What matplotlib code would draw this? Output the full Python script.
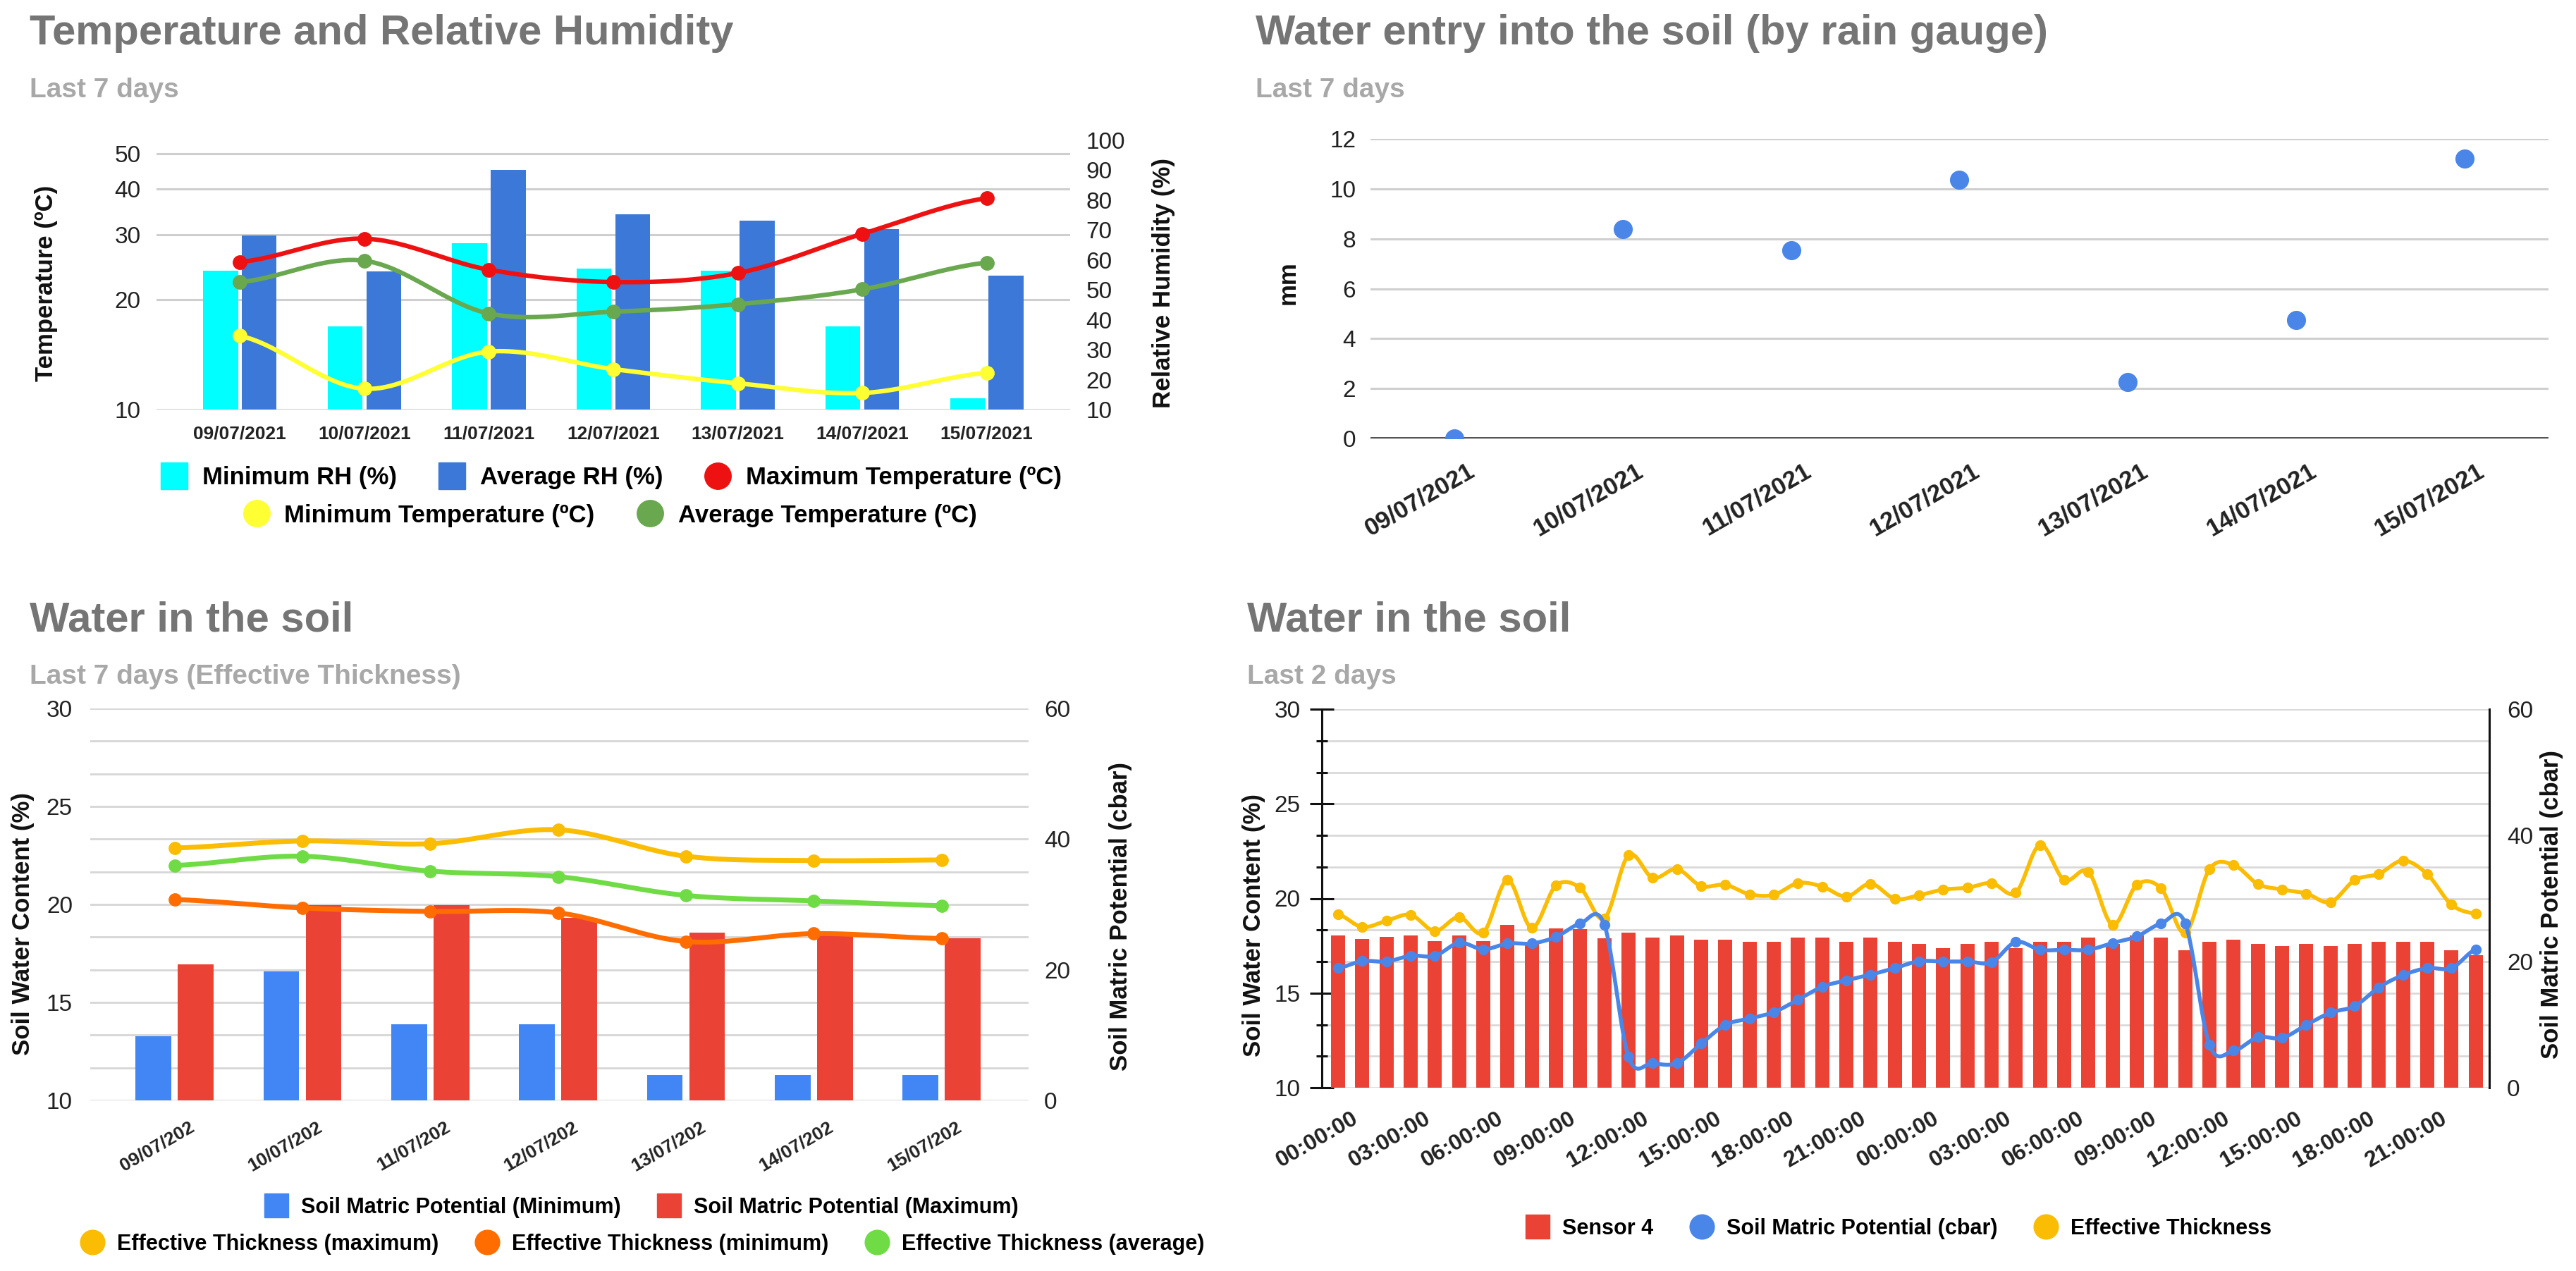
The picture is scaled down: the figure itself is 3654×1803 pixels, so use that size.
import numpy as np
import matplotlib
matplotlib.use('Agg')
import matplotlib.pyplot as plt
from matplotlib.lines import Line2D
from matplotlib.ticker import NullLocator, FixedLocator
from matplotlib.transforms import ScaledTranslation

plt.rcParams['font.family'] = ['Liberation Sans', 'DejaVu Sans']

# ---------------- data ----------------
dates = ['09/07/2021', '10/07/2021', '11/07/2021', '12/07/2021',
         '13/07/2021', '14/07/2021', '15/07/2021']
rh_min = [56.3, 37.7, 65.6, 57.1, 56.3, 37.7, 13.7]
rh_avg = [68.3, 56.2, 90.2, 75.3, 73.2, 70.3, 54.8]
t_max = [25.3, 29.3, 24.1, 22.3, 23.6, 30.2, 37.8]
t_avg = [22.3, 25.5, 18.3, 18.5, 19.4, 21.3, 25.2]
t_min = [15.9, 11.4, 14.4, 12.9, 11.8, 11.1, 12.6]

rain_mm = [0.0, 8.4, 7.55, 10.35, 2.25, 4.75, 11.2]

soil_dates = ['09/07/202', '10/07/202', '11/07/202', '12/07/202',
              '13/07/202', '14/07/202', '15/07/202']
smp_min = [9.8, 19.8, 11.7, 11.7, 3.9, 3.9, 3.9]
smp_max = [20.8, 29.9, 29.9, 28.0, 25.7, 25.4, 24.8]
et_max = [22.88, 23.24, 23.10, 23.81, 22.46, 22.24, 22.27]
et_min = [20.25, 19.82, 19.64, 19.57, 18.11, 18.51, 18.26]
et_avg = [21.99, 22.46, 21.70, 21.42, 20.46, 20.18, 19.94]

hour_labels = ['00:00:00', '03:00:00', '06:00:00', '09:00:00', '12:00:00',
               '15:00:00', '18:00:00', '21:00:00'] * 2
sensor4 = [18.05, 17.84, 17.96, 18.05, 17.73, 18.05, 17.73, 18.61, 17.72, 18.40,
           18.39, 17.91, 18.18, 17.93, 18.05, 17.83, 17.81, 17.72, 17.72, 17.93,
           17.93, 17.72, 17.93, 17.72, 17.58, 17.37, 17.58, 17.71, 17.37, 17.71,
           17.71, 17.93, 17.58, 18.05, 17.93, 17.27, 17.71, 17.83, 17.58, 17.47,
           17.58, 17.47, 17.58, 17.71, 17.71, 17.71, 17.25, 17.00]
smp_cbar = [18.96, 20.07, 20.0, 20.93, 20.9, 22.97, 21.93, 22.86, 22.86, 23.9,
            26.0, 25.84, 4.9, 3.9, 3.9, 6.99, 9.96, 10.97, 11.97, 13.94,
            15.99, 17.03, 17.92, 18.96, 20.05, 20.0, 20.0, 19.9, 23.1, 21.86,
            21.86, 21.86, 22.95, 23.98, 26.02, 26.05, 6.8, 5.87, 7.99, 7.88,
            9.96, 11.9, 12.94, 15.91, 17.84, 18.96, 18.96, 21.93]
eff_thick = [19.17, 18.49, 18.82, 19.13, 18.28, 19.02, 18.20, 20.97, 18.45, 20.68,
             20.56, 18.95, 22.28, 21.09, 21.55, 20.66, 20.72, 20.22, 20.19, 20.81,
             20.63, 20.10, 20.78, 19.98, 20.17, 20.47, 20.56, 20.81, 20.31, 22.83,
             20.97, 21.40, 18.61, 20.72, 20.53, 18.18, 21.55, 21.77, 20.76, 20.47,
             20.26, 19.81, 20.97, 21.30, 22.00, 21.28, 19.67, 19.19]

# ---------------- helpers ----------------
W, H = 3655, 1803
fig = plt.figure(figsize=(W / 100, H / 100), dpi=100)


def rect(x0, y0, x1, y1):
    return [x0 / W, 1 - y1 / H, (x1 - x0) / W, (y1 - y0) / H]


def ftext(x, y, s, **kw):
    fig.text(x / W, 1 - y / H, s, **kw)


def smooth(y, n=24):
    """Catmull-Rom curve through the points (index spacing)."""
    y = np.asarray(y, float)
    N = len(y)
    m = np.empty(N)
    m[1:-1] = (y[2:] - y[:-2]) / 2
    m[0] = (y[1] - y[0]) / 2
    m[-1] = (y[-1] - y[-2]) / 2
    t = np.linspace(0, 1, n, endpoint=False)
    h00 = 2 * t**3 - 3 * t**2 + 1
    h10 = t**3 - 2 * t**2 + t
    h01 = -2 * t**3 + 3 * t**2
    h11 = t**3 - t**2
    xs, ys = [], []
    for i in range(N - 1):
        xs.append(i + t)
        ys.append(h00 * y[i] + h10 * m[i] + h01 * y[i + 1] + h11 * m[i + 1])
    xs.append([N - 1])
    ys.append([y[-1]])
    return np.concatenate(xs), np.concatenate(ys)


def shift_labels(ax, dx_px):
    off = ScaledTranslation(dx_px / 100, 0, fig.dpi_scale_trans)
    for lab in ax.get_xticklabels():
        lab.set_transform(lab.get_transform() + off)


def clean(ax):
    for s in ax.spines.values():
        s.set_visible(False)


def ylab(ax, text, x, y):
    ax.set_ylabel(text, **YLAB)
    ax.yaxis.set_label_coords(x, y)
    ax.yaxis.label.set_verticalalignment('center')
    ax.yaxis.label.set_horizontalalignment('center')


TITLE = dict(size=43, weight='bold', color='#757575', va='baseline', ha='left')
SUB = dict(size=28, weight='bold', color='#a8a8a8', va='baseline', ha='left')
GRID = '#cfcfcf'
TICKC = '#222222'
YLAB = dict(size=25, weight='bold', color='#111111')
LEG = dict(frameon=False, loc='center',
           handlelength=1.1, handletextpad=0.6, columnspacing=1.7)
LEGP = dict(weight='bold', size=22)

# ================= Panel 1: Temperature and Relative Humidity =================
ftext(42, 63, 'Temperature and Relative Humidity', **TITLE)
ftext(42, 138, 'Last 7 days', **SUB)
r1 = rect(222, 199, 1518, 581)
x7 = np.arange(len(dates))
TTOP = 54.4

bg = fig.add_axes(r1)
bg.set_yscale('log')
bg.set_ylim(10, TTOP)
bg.set_xlim(-0.67, 6.67)
bg.yaxis.set_major_locator(FixedLocator([10, 20, 30, 40, 50]))
bg.yaxis.set_minor_locator(NullLocator())
bg.set_yticklabels(['10', '20', '30', '40', '50'])
bg.set_xticks([])
bg.grid(axis='y', color=GRID, lw=2.2)
bg.tick_params(axis='y', length=0, pad=16, labelsize=24, labelcolor=TICKC)
clean(bg)
ylab(bg, 'Temperature (ºC)', -0.121, 0.47)

ax1 = fig.add_axes(r1)
ax1.patch.set_visible(False)
ax1.bar(x7 - 0.155, rh_min, width=0.28, color='#00ffff', zorder=2)
ax1.bar(x7 + 0.155, rh_avg, width=0.28, color='#3c78d8', zorder=2)
ax1.set_ylim(10, 100)
ax1.set_xlim(-0.67, 6.67)
ax1.set_yticks(np.arange(10, 101, 10))
ax1.set_xticks(x7)
ax1.set_xticklabels(dates, fontsize=19, fontweight='bold', color=TICKC)
ax1.tick_params(axis='x', length=0, pad=16)
clean(ax1)

tw1 = ax1.twinx()
tw1.set_yscale('log')
tw1.set_ylim(10, TTOP)
tw1.yaxis.set_major_locator(NullLocator())
tw1.yaxis.set_minor_locator(NullLocator())
clean(tw1)
for vals, col in [(t_max, '#ee1111'), (t_min, '#ffff33'), (t_avg, '#6aa84f')]:
    sx, sy = smooth(np.log10(vals))
    tw1.plot(sx, 10 ** sy, color=col, lw=4.6, solid_capstyle='round', zorder=3)
    tw1.plot(x7, vals, 'o', color=col, ms=14, zorder=4)

ax1.yaxis.tick_right()
ax1.yaxis.set_label_position('right')
ax1.tick_params(axis='y', length=0, pad=16, labelsize=24, labelcolor=TICKC)
ylab(ax1, 'Relative Humidity (%)', 1.1026, 0.47)

h_cyan = Line2D([], [], marker='s', ls='none', ms=27, color='#00ffff')
h_blue = Line2D([], [], marker='s', ls='none', ms=27, color='#3c78d8')
h_red = Line2D([], [], marker='o', ls='none', ms=27, color='#ee1111')
h_yel = Line2D([], [], marker='o', ls='none', ms=27, color='#ffff33')
h_grn = Line2D([], [], marker='o', ls='none', ms=27, color='#6aa84f')
fig.legend(handles=[h_cyan, h_blue, h_red],
           labels=['Minimum RH (%)', 'Average RH (%)', 'Maximum Temperature (ºC)'],
           ncol=3, bbox_to_anchor=(867 / W, 1 - 678 / H),
           prop=dict(weight='bold', size=25), **LEG)
fig.legend(handles=[h_yel, h_grn],
           labels=['Minimum Temperature (ºC)', 'Average Temperature (ºC)'],
           ncol=2, bbox_to_anchor=(865 / W, 1 - 731 / H),
           prop=dict(weight='bold', size=25), **LEG)

# ================= Panel 2: Water entry into the soil =================
ftext(1781, 63, 'Water entry into the soil (by rain gauge)', **TITLE)
ftext(1781, 138, 'Last 7 days', **SUB)
ax2 = fig.add_axes(rect(1944, 197, 3615, 622))
ax2.plot(x7, rain_mm, 'o', color='#4a86e8', ms=18.5, zorder=3)
ax2.axhline(0, color='#333333', lw=2.6, zorder=2)
ax2.set_ylim(0, 12)
ax2.set_xlim(-0.5, 6.5)
ax2.set_yticks(np.arange(0, 13, 2))
ax2.grid(axis='y', color=GRID, lw=2.2, zorder=0)
ax2.set_axisbelow(True)
ax2.tick_params(axis='y', length=0, pad=15, labelsize=24, labelcolor=TICKC)
ax2.set_xticks(x7)
ax2.set_xticklabels(dates, rotation=30, ha='right', va='center',
                    rotation_mode='anchor', fontsize=25, fontweight='bold', color=TICKC)
ax2.tick_params(axis='x', length=0, pad=31)
shift_labels(ax2, 26)
clean(ax2)
ylab(ax2, 'mm', -0.07, 0.52)

# ================= Panel 3: Water in the soil (7 days) =================
ftext(42, 895, 'Water in the soil', **TITLE)
ftext(42, 970, 'Last 7 days (Effective Thickness)', **SUB)
r3 = rect(128, 1005, 1459, 1561)
ax3 = fig.add_axes(r3)
ax3.bar(x7 - 0.165, smp_min, width=0.28, color='#4285f4', zorder=2)
ax3.bar(x7 + 0.165, smp_max, width=0.28, color='#ea4335', zorder=2)
ax3.set_ylim(0, 60)
ax3.set_xlim(-0.66, 6.68)
ax3.set_yticks([0, 20, 40, 60])
ax3.set_yticks(np.arange(0, 61, 5), minor=True)
ax3.grid(axis='y', which='both', color='#d6d6d6', lw=2.0, zorder=0)
ax3.set_axisbelow(True)
ax3.set_xticks(x7)
ax3.set_xticklabels(soil_dates, rotation=30, ha='right', va='center',
                    rotation_mode='anchor', fontsize=19, fontweight='bold', color=TICKC)
ax3.tick_params(axis='x', length=0, pad=26)
shift_labels(ax3, 26)
clean(ax3)

tw3 = ax3.twinx()
tw3.set_ylim(10, 30)
tw3.set_yticks([10, 15, 20, 25, 30])
clean(tw3)
for vals, col in [(et_max, '#fbbc04'), (et_min, '#ff6d01'), (et_avg, '#6fdc45')]:
    sx, sy = smooth(vals)
    tw3.plot(sx, sy, color=col, lw=5, solid_capstyle='round', zorder=3)
    tw3.plot(x7, vals, 'o', color=col, ms=12.5, zorder=4)

ax3.yaxis.tick_right()
ax3.yaxis.set_label_position('right')
ax3.tick_params(axis='y', which='both', length=0, pad=16, labelsize=24, labelcolor=TICKC)
ylab(ax3, 'Soil Matric Potential (cbar)', 1.0977, 0.47)
tw3.yaxis.tick_left()
tw3.yaxis.set_label_position('left')
tw3.tick_params(axis='y', length=0, pad=18, labelsize=24, labelcolor=TICKC)
ylab(tw3, 'Soil Water Content (%)', -0.0714, 0.45)

hb = Line2D([], [], marker='s', ls='none', ms=25, color='#4285f4')
hr = Line2D([], [], marker='s', ls='none', ms=25, color='#ea4335')
hy = Line2D([], [], marker='o', ls='none', ms=25, color='#fbbc04')
ho = Line2D([], [], marker='o', ls='none', ms=25, color='#ff6d01')
hg = Line2D([], [], marker='o', ls='none', ms=25, color='#6fdc45')
fig.legend(handles=[hb, hr],
           labels=['Soil Matric Potential (Minimum)', 'Soil Matric Potential (Maximum)'],
           ncol=2, bbox_to_anchor=(910 / W, 1 - 1713 / H), prop=LEGP, **LEG)
fig.legend(handles=[hy, ho, hg],
           labels=['Effective Thickness (maximum)', 'Effective Thickness (minimum)',
                   'Effective Thickness (average)'],
           ncol=3, bbox_to_anchor=(911 / W, 1 - 1765 / H), prop=LEGP, **LEG)

# ================= Panel 4: Water in the soil (2 days) =================
ftext(1769, 895, 'Water in the soil', **TITLE)
ftext(1769, 970, 'Last 2 days', **SUB)
x48 = np.arange(len(sensor4))
ax4 = fig.add_axes(rect(1875, 1006, 3531, 1543))
ax4.bar(x48, sensor4, width=0.58, color='#ea4335', zorder=2)
sx, sy = smooth(eff_thick)
ax4.plot(sx, sy, color='#fbbc04', lw=4, zorder=3)
ax4.plot(x48, eff_thick, 'o', color='#fbbc04', ms=10, zorder=4)
ax4.set_ylim(10, 30)
ax4.set_xlim(-0.67, 47.56)
ax4.set_yticks([10, 15, 20, 25, 30])
ax4.set_yticks(np.linspace(10, 30, 13), minor=True)
ax4.grid(axis='y', which='both', color='#d9d9d9', lw=2.0, zorder=0)
ax4.set_axisbelow(True)
ax4.set_xticks(x48[::3])
ax4.set_xticklabels(hour_labels, rotation=30, ha='right', va='center',
                    rotation_mode='anchor', fontsize=23, fontweight='bold', color=TICKC)
ax4.tick_params(axis='x', length=0, pad=30)
shift_labels(ax4, 26)
for k in ('top', 'bottom', 'right'):
    ax4.spines[k].set_visible(False)
ax4.spines['left'].set_linewidth(2.2)
ax4.spines['left'].set_color('#111111')

tw4 = ax4.twinx()
sx, sy = smooth(smp_cbar)
tw4.plot(sx, sy, color='#4a86e8', lw=4, zorder=3)
tw4.plot(x48, smp_cbar, 'o', color='#4a86e8', ms=10, zorder=4)
tw4.set_ylim(0, 60)
tw4.set_yticks([0, 20, 40, 60])
for k in ('top', 'bottom', 'left'):
    tw4.spines[k].set_visible(False)
tw4.spines['right'].set_linewidth(2.2)
tw4.spines['right'].set_color('#111111')
tw4.yaxis.tick_right()
tw4.tick_params(axis='y', length=0, pad=18, labelsize=24, labelcolor=TICKC)
ylab(tw4, 'Soil Matric Potential (cbar)', 1.0537, 0.485)

ax4.yaxis.tick_left()
ax4.tick_params(axis='y', which='major', direction='inout', length=24, width=2.2,
                color='#111111', pad=10, labelsize=24, labelcolor=TICKC)
ax4.tick_params(axis='y', which='minor', direction='inout', length=12, width=2.2,
                color='#111111')
ylab(ax4, 'Soil Water Content (%)', -0.058, 0.43)

hs4 = Line2D([], [], marker='s', ls='none', ms=25, color='#ea4335')
hb4 = Line2D([], [], marker='o', ls='none', ms=25, color='#4a86e8')
hy4 = Line2D([], [], marker='o', ls='none', ms=25, color='#fbbc04')
fig.legend(handles=[hs4, hb4, hy4],
           labels=['Sensor 4', 'Soil Matric Potential (cbar)', 'Effective Thickness'],
           ncol=3, bbox_to_anchor=(2693 / W, 1 - 1743 / H), prop=LEGP, **LEG)

fig.savefig('out.png', dpi=100, facecolor='white')
